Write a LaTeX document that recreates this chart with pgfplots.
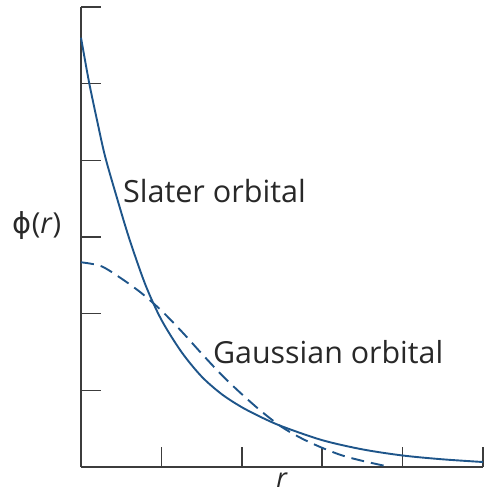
\documentclass[border=0pt]{standalone}
\usepackage{pgfplots}
\pgfplotsset{compat=1.18}
\usepackage{fontspec}
\setmainfont{Open Sans}
\newfontfamily\phifont{DejaVu Sans}
\definecolor{orbblue}{RGB}{30,85,138}
\definecolor{axisgray}{RGB}{60,60,60}
\definecolor{labelgray}{RGB}{40,40,40}

\begin{document}
\begin{tikzpicture}
\useasboundingbox (0,0) rectangle (490bp,498bp);
\begin{axis}[
  at={(81bp,31bp)}, anchor=south west,
  scale only axis, width=402bp, height=460bp,
  xmin=0, xmax=5, ymin=0, ymax=6,
  axis lines=left,
  axis line style={-, line width=1.4bp, draw=axisgray},
  tick align=inside,
  xtick={1,2,3,4,5}, ytick={1,2,3,4,5,6},
  xticklabels={}, yticklabels={},
  major tick length=20bp,
  tick style={line width=1.5bp, draw=axisgray},
  clip=false,
]
% Slater-type orbital: exponential decay with a cusp at r = 0
\addplot[orbblue, line width=1.9bp, smooth] coordinates {
  (0,5.60) (0.1,5.02) (0.2,4.52) (0.3,4.05) (0.45,3.50) (0.6,2.98)
  (0.8,2.38) (1.0,1.92) (1.25,1.50) (1.5,1.18) (1.75,0.95) (2.0,0.78)
  (2.25,0.645) (2.5,0.53) (3.0,0.35) (3.5,0.23) (4.0,0.15) (4.5,0.10)
  (5.0,0.065)
};
% Gaussian-type orbital: flat at the nucleus, falls off faster at large r
\addplot[orbblue, line width=1.9bp, smooth, dash pattern=on 13bp off 7bp] coordinates {
  (0,2.67) (0.25,2.62) (0.5,2.46) (0.75,2.27) (1.0,2.04) (1.25,1.77)
  (1.5,1.48) (1.75,1.20) (2.0,0.95) (2.25,0.72) (2.5,0.52) (2.75,0.37)
  (3.0,0.25) (3.25,0.15) (3.5,0.08) (3.8,0.01)
};
\node[anchor=base west, text=labelgray, font=\fontsize{30.7}{36}\selectfont, inner sep=0pt]
  at (axis cs:0.52,3.455) {Slater orbital};
\node[anchor=base west, text=labelgray, font=\fontsize{30.5}{36}\selectfont, inner sep=0pt]
  at (axis cs:1.64,1.356) {Gaussian orbital};
\node[text=labelgray, font=\fontsize{29}{34}\selectfont, inner sep=0pt]
  at (axis cs:-0.547,3.155) {{\phifont ϕ}(\textit{r})};
\node[anchor=base, text=labelgray, font=\fontsize{27}{32}\selectfont, inner sep=0pt]
  at (axis cs:2.5,-0.27) {\textit{r}};
\end{axis}
\end{tikzpicture}
\end{document}
